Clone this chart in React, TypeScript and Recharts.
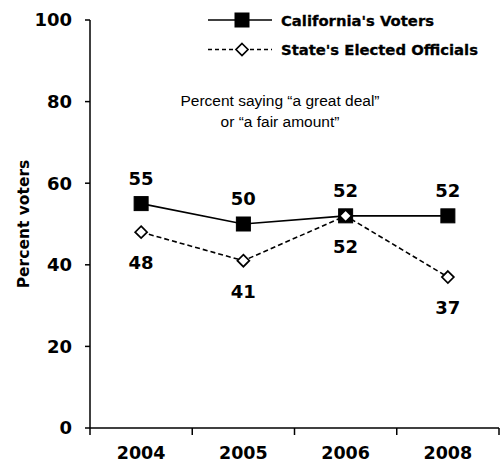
import React from 'react';
import { LineChart, Line, XAxis, YAxis, Legend, LabelList, Customized } from 'recharts';

const years = ['2004', '2005', '2006', '2008'];
const votersValues = [55, 50, 52, 52];
const officialsValues = [48, 41, 52, 37];
const yTicks = [0, 20, 40, 60, 80, 100];
const seriesNames = ["California's Voters", "State's Elected Officials"];
const noteLines = ['Percent saying \u201ca great deal\u201d', 'or \u201ca fair amount\u201d'];
const yAxisTitle = 'Percent voters';

const data = years.map((year, i) => ({
  year,
  voters: votersValues[i],
  officials: officialsValues[i],
}));

const W = 501;
const H = 464;
const MARGIN = { top: 20, right: 2, left: 10, bottom: 0 };
const Y_AXIS_W = 80;
const X_AXIS_H = 36;
const PLOT_W = W - MARGIN.left - MARGIN.right - Y_AXIS_W;
const HALF_BAND = PLOT_W / years.length / 2;

const BOLD = '"DejaVu Sans", sans-serif';
const NORMAL = '"Liberation Sans", Arial, sans-serif';

const SquareDot = (props: any) => {
  const { cx, cy } = props;
  if (cx == null || cy == null) return null;
  return <rect x={cx - 7} y={cy - 7} width={14} height={14} fill="#000" stroke="#000" strokeWidth={1} />;
};

const DiamondDot = (props: any) => {
  const { cx, cy } = props;
  if (cx == null || cy == null) return null;
  const r = 6;
  return (
    <polygon
      points={`${cx},${cy - r} ${cx + r},${cy} ${cx},${cy + r} ${cx - r},${cy}`}
      fill="#fff"
      stroke="#000"
      strokeWidth={1.7}
    />
  );
};

const XTick = (props: any) => {
  const { x, y, payload, index, visibleTicksCount } = props;
  const isLast = index === visibleTicksCount - 1;
  return (
    <g>
      <line x1={x - HALF_BAND} y1={y} x2={x - HALF_BAND} y2={y + 7} stroke="#000" strokeWidth={1.5} />
      {isLast && <line x1={x + HALF_BAND} y1={y} x2={x + HALF_BAND} y2={y + 7} stroke="#000" strokeWidth={1.5} />}
      <text x={x} y={y + 31} textAnchor="middle" fontFamily={BOLD} fontWeight="bold" fontSize={17.5} fill="#000">
        {payload.value}
      </text>
    </g>
  );
};

const YTitle = (props: any) => {
  const { viewBox } = props;
  const cx = viewBox.x + 14;
  const cy = viewBox.y + viewBox.height / 2;
  return (
    <text
      x={cx}
      y={cy}
      transform={`rotate(-90, ${cx}, ${cy})`}
      textAnchor="middle"
      dominantBaseline="central"
      fontFamily={BOLD}
      fontWeight="bold"
      fontSize={15.5}
      fill="#000"
    >
      {yAxisTitle}
    </text>
  );
};

const LegendContent = (props: any) => {
  const { payload } = props;
  return (
    <svg width={300} height={64} style={{ display: 'block' }}>
      {(payload || []).map((entry: any, i: number) => {
        const cy = 20 + i * 29.5;
        const dashed = i === 1;
        return (
          <g key={entry.value}>
            <line
              x1={8}
              y1={cy}
              x2={72}
              y2={cy}
              stroke="#000"
              strokeWidth={1.6}
              strokeDasharray={dashed ? '4 3' : undefined}
            />
            {dashed ? <DiamondDot cx={42} cy={cy} /> : <SquareDot cx={42} cy={cy} />}
            <text
              x={81}
              y={cy}
              dominantBaseline="central"
              fontFamily={BOLD}
              fontWeight="bold"
              fontSize={14.8}
              fill="#000"
              stroke="#000"
              strokeWidth={0.3}
            >
              {entry.value}
            </text>
          </g>
        );
      })}
    </svg>
  );
};

const Note = () => (
  <g>
    {noteLines.map((t, i) => (
      <text
        key={t}
        x={280}
        y={100 + i * 21}
        textAnchor="middle"
        dominantBaseline="central"
        fontFamily={NORMAL}
        fontSize={15.5}
        fill="#000"
      >
        {t}
      </text>
    ))}
  </g>
);

export default function App() {
  return (
    <div style={{ position: 'absolute', top: 0, left: 0, width: W, height: H, background: '#fff' }}>
      <LineChart width={W} height={H} data={data} margin={MARGIN}>
        <XAxis
          dataKey="year"
          padding={{ left: HALF_BAND, right: HALF_BAND }}
          height={X_AXIS_H}
          tickLine={false}
          tickSize={0}
          tickMargin={0}
          tick={<XTick />}
          axisLine={{ stroke: '#000', strokeWidth: 1.5 }}
          interval={0}
        />
        <YAxis
          domain={[0, 100]}
          ticks={yTicks}
          width={Y_AXIS_W}
          tickSize={5}
          tickMargin={13}
          axisLine={{ stroke: '#000', strokeWidth: 1.5 }}
          tickLine={{ stroke: '#000', strokeWidth: 1.5 }}
          tick={{ fill: '#000', fontSize: 18, fontWeight: 'bold', fontFamily: BOLD }}
          label={<YTitle />}
          interval={0}
        />
        <Legend
          layout="vertical"
          align="center"
          verticalAlign="middle"
          content={<LegendContent />}
          wrapperStyle={{ top: 0, left: 200, width: 300, height: 64 }}
        />
        <Customized component={Note} />
        <Line
          dataKey="voters"
          name={seriesNames[0]}
          stroke="#000"
          strokeWidth={1.6}
          dot={<SquareDot />}
          activeDot={false}
          isAnimationActive={false}
        >
          <LabelList
            dataKey="voters"
            position="top"
            offset={19}
            fill="#000"
            fontFamily={BOLD}
            fontWeight="bold"
            fontSize={18}
          />
        </Line>
        <Line
          dataKey="officials"
          name={seriesNames[1]}
          stroke="#000"
          strokeWidth={1.6}
          strokeDasharray="5 3"
          dot={<DiamondDot />}
          activeDot={false}
          isAnimationActive={false}
        >
          <LabelList
            dataKey="officials"
            position="bottom"
            offset={24}
            fill="#000"
            fontFamily={BOLD}
            fontWeight="bold"
            fontSize={18}
          />
        </Line>
      </LineChart>
    </div>
  );
}
